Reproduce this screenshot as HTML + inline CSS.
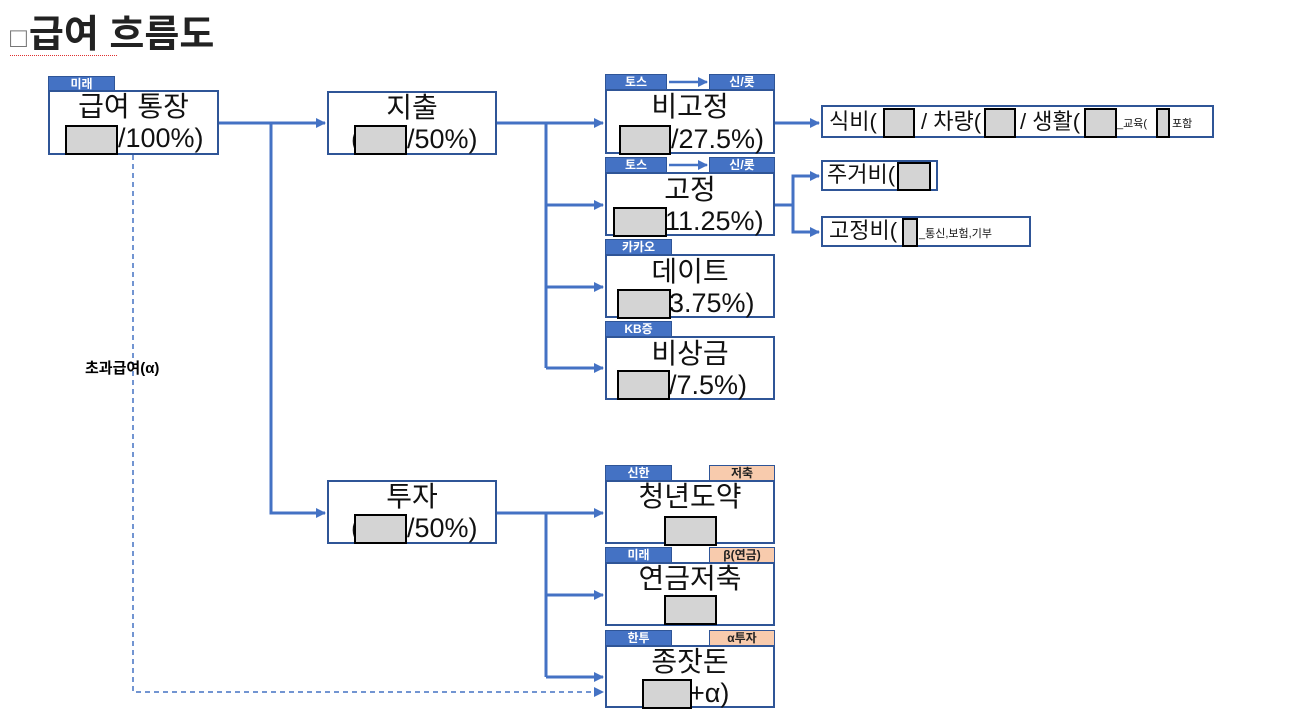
<!DOCTYPE html>
<html><head><meta charset="utf-8"><style>
body{margin:0;width:1289px;height:724px;background:#fff;position:relative;overflow:hidden;font-family:"Liberation Sans","Noto Sans CJK KR",sans-serif;}
.a{position:absolute;box-sizing:border-box;}
.box{position:absolute;box-sizing:border-box;border:2px solid #2F5597;background:#fff;}
.t1{position:absolute;left:0;right:0;text-align:center;font-size:28px;line-height:30px;color:#111;}
.tag{position:absolute;box-sizing:border-box;height:16px;background:#4472C4;border:1px solid #2F5597;color:#fff;font-size:12px;font-weight:bold;line-height:14px;text-align:center;}
.pe{background:#F8CBAD;color:#222;}
.g{position:absolute;box-sizing:border-box;background:#d4d4d4;border:2.5px solid #000;}
.sm{font-size:22px;line-height:30px;color:#111;position:absolute;white-space:nowrap;}
.n{font-size:27px;}
</style></head><body>
<div class="a" style="left:10px;top:12px;font-size:38px;font-weight:bold;color:#222;line-height:46px;"><span style="font-weight:normal;font-size:28px;color:#777;margin-right:2px">□</span>급여 흐름도</div>
<div class="a" style="left:10px;top:55px;width:107px;border-top:1px dotted #e03030"></div>

<svg class="a" style="left:0;top:0" width="1289" height="724">
<defs><marker id="ar" markerWidth="10" markerHeight="10" refX="9" refY="5" orient="auto" markerUnits="userSpaceOnUse"><path d="M0,0 L10,5 L0,10z" fill="#4472C4"/></marker></defs>
<g stroke="#4472C4" stroke-width="3" fill="none">
<path d="M219,123 H325" marker-end="url(#ar)"/>
<path d="M271,123 V513 H325" marker-end="url(#ar)"/>
<path d="M497,123 H603" marker-end="url(#ar)"/>
<path d="M546,123 V368"/>
<path d="M546,205 H603" marker-end="url(#ar)"/>
<path d="M546,287 H603" marker-end="url(#ar)"/>
<path d="M546,368 H603" marker-end="url(#ar)"/>
<path d="M775,123 H819" marker-end="url(#ar)"/>
<path d="M775,205 H793 V176 H819" marker-end="url(#ar)"/>
<path d="M793,205 V232 H819" marker-end="url(#ar)"/>
<path d="M497,513 H603" marker-end="url(#ar)"/>
<path d="M546,513 V677"/>
<path d="M546,595 H603" marker-end="url(#ar)"/>
<path d="M546,677 H603" marker-end="url(#ar)"/>
<path d="M669,82 H707" stroke-width="2.5" marker-end="url(#ar)"/>
<path d="M669,165 H707" stroke-width="2.5" marker-end="url(#ar)"/>
</g>
<path d="M133,155 V692 H603" stroke="#4472C4" stroke-width="1.5" stroke-dasharray="5,4" fill="none" marker-end="url(#ar)"/>
</svg>

<div class="a" style="left:85px;top:357px;font-size:15px;font-weight:bold;">초과급여(α)</div>

<div class="tag" style="left:48px;top:76px;width:67px">미래</div>
<div class="box" style="left:48px;top:90px;width:171px;height:65px"><div class="t1" style="top:0px">급여 통장</div><div class="sm n" style="left:68px;top:31px">/100%)</div><div class="g" style="left:15px;top:33px;width:53px;height:30px"></div></div>

<div class="box" style="left:327px;top:91px;width:170px;height:64px"><div class="t1" style="top:0px">지출</div><div class="sm n" style="left:22px;top:31px">(</div><div class="sm n" style="left:78px;top:31px">/50%)</div><div class="g" style="left:25px;top:32px;width:53px;height:30px"></div></div>

<div class="box" style="left:327px;top:480px;width:170px;height:64px"><div class="t1" style="top:0px">투자</div><div class="sm n" style="left:22px;top:31px">(</div><div class="sm n" style="left:78px;top:31px">/50%)</div><div class="g" style="left:25px;top:32px;width:53px;height:30px"></div></div>

<div class="tag" style="left:605px;top:74px;width:62px">토스</div><div class="tag" style="left:709px;top:74px;width:66px">신/롯</div>
<div class="box" style="left:605px;top:89px;width:170px;height:65px"><div class="t1" style="top:1px">비고정</div><div class="sm n" style="left:64px;top:33px">/27.5%)</div><div class="g" style="left:12px;top:34px;width:52px;height:30px"></div></div>

<div class="tag" style="left:605px;top:157px;width:62px">토스</div><div class="tag" style="left:709px;top:157px;width:66px">신/롯</div>
<div class="box" style="left:605px;top:172px;width:170px;height:64px"><div class="t1" style="top:1px">고정</div><div class="sm n" style="left:58px;top:32px">11.25%)</div><div class="g" style="left:6px;top:33px;width:54px;height:30px"></div></div>

<div class="tag" style="left:605px;top:239px;width:67px">카카오</div>
<div class="box" style="left:605px;top:254px;width:170px;height:64px"><div class="t1" style="top:1px">데이트</div><div class="sm n" style="left:62px;top:32px">3.75%)</div><div class="g" style="left:10px;top:33px;width:54px;height:30px"></div></div>

<div class="tag" style="left:605px;top:321px;width:67px">KB증</div>
<div class="box" style="left:605px;top:336px;width:170px;height:64px"><div class="t1" style="top:1px">비상금</div><div class="sm n" style="left:62px;top:32px">/7.5%)</div><div class="g" style="left:10px;top:32px;width:53px;height:30px"></div></div>

<div class="tag" style="left:605px;top:465px;width:67px">신한</div><div class="tag pe" style="left:709px;top:465px;width:66px">저축</div>
<div class="box" style="left:605px;top:480px;width:170px;height:64px"><div class="t1" style="top:0px">청년도약</div><div class="g" style="left:57px;top:34px;width:53px;height:30px"></div></div>

<div class="tag" style="left:605px;top:547px;width:67px">미래</div><div class="tag pe" style="left:709px;top:547px;width:66px">β(연금)</div>
<div class="box" style="left:605px;top:562px;width:170px;height:64px"><div class="t1" style="top:0px">연금저축</div><div class="g" style="left:57px;top:31px;width:53px;height:30px"></div></div>

<div class="tag" style="left:605px;top:630px;width:67px">한투</div><div class="tag pe" style="left:709px;top:630px;width:66px">α투자</div>
<div class="box" style="left:605px;top:645px;width:170px;height:63px"><div class="t1" style="top:0px">종잣돈</div><div class="sm n" style="left:82px;top:31px">+α)</div><div class="g" style="left:35px;top:32px;width:50px;height:30px"></div></div>

<div class="box" style="left:821px;top:105px;width:393px;height:33px">
<div class="sm" style="left:6px;top:0px">식비(</div>
<div class="g" style="left:60px;top:1px;width:32px;height:30px"></div>
<div class="sm" style="left:98px;top:0px">/ 차량(</div>
<div class="g" style="left:161px;top:1px;width:32px;height:30px"></div>
<div class="sm" style="left:197px;top:0px">/ 생활(</div>
<div class="g" style="left:261px;top:1px;width:33px;height:30px"></div>
<div class="sm" style="left:294px;top:2px;font-size:11px">_교육(</div>
<div class="g" style="left:333px;top:1px;width:14px;height:30px"></div>
<div class="sm" style="left:349px;top:2px;font-size:11px">포함</div>
</div>
<div class="box" style="left:821px;top:160px;width:117px;height:31px"><div class="sm" style="left:4px;top:-2px">주거비(</div><div class="g" style="left:74px;top:0px;width:34px;height:29px"></div></div>
<div class="box" style="left:821px;top:216px;width:210px;height:31px"><div class="sm" style="left:6px;top:-2px">고정비(</div><div class="g" style="left:79px;top:0px;width:16px;height:29px"></div><div class="sm" style="left:96px;top:1px;font-size:11px">_통신,보험,기부</div></div>
</body></html>
